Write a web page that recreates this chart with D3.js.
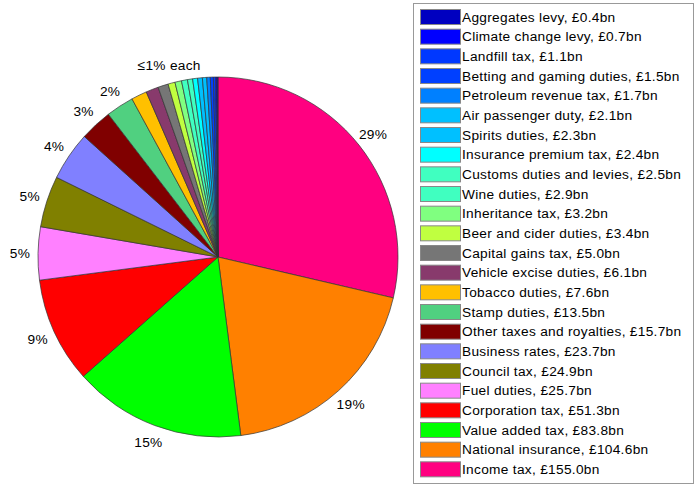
<!DOCTYPE html>
<html>
<head>
<meta charset="utf-8">
<script src="https://cdn.jsdelivr.net/npm/d3@7"></script>
<style>
  body { margin: 0; background: white; }
  text { font-family: "Liberation Sans", Arial, sans-serif; }
</style>
</head>
<body>
<main></main>
<script>
// descending order, as drawn clockwise from 12 o'clock
let taxes = ["Income tax", "National insurance", "Value added tax", "Corporation tax",
    "Fuel duties", "Council tax", "Business rates", "Other taxes and royalties",
    "Stamp duties", "Tobacco duties", "Vehicle excise duties", "Capital gains tax",
    "Beer and cider duties", "Inheritance tax", "Wine duties", "Customs duties and levies",
    "Insurance premium tax", "Spirits duties", "Air passenger duty", "Petroleum revenue tax",
    "Betting and gaming duties", "Landfill tax", "Climate change levy", "Aggregates levy"]

let revenue = [155.0, 104.6, 83.8, 51.3, 25.7, 24.9, 23.7, 15.7, 13.5, 7.6, 6.1, 5.0,
    3.4, 3.2, 2.9, 2.5, 2.4, 2.3, 2.1, 1.7, 1.5, 1.1, 0.7, 0.4]

let colours = ["#ff0080", "#ff8000", "#00ff00", "#ff0000", "#ff80ff", "#808000",
    "#8080ff", "#800000", "#50d080", "#ffc000", "#883a6c", "#767676",
    "#c0ff40", "#80ff80", "#40ffc0", "#40ffc0", "#00ffff", "#00c0ff",
    "#00c0ff", "#0080ff", "#0040ff", "#0038ff", "#0000ff", "#0000c0"]

// slice labels; the small slices share one label
let sliceLabels = ["29%", "19%", "15%", "9%", "5%", "5%", "4%", "3%", "2%"]
let smallLabel = "\u22641% each"

const svgWidth = 696
const svgHeight = 487
const cx = 218
const cy = 257
const radius = 180
const labelRadius = 198
const fontSize = "13.7px"

let data = taxes.map((t, i) => ({ tax: t, value: revenue[i], colour: colours[i] }))

let svg = d3.select("main")
    .append("svg")
    .attr("width", svgWidth)
    .attr("height", svgHeight)

/* pie */

let pie = d3.pie()
    .value((d) => d.value)
    .sort(null)

let arcs = pie(data)

let arc = d3.arc()
    .innerRadius(0)
    .outerRadius(radius)

let graph = svg.append("g")
    .attr("transform", `translate(${cx}, ${cy})`)

graph.selectAll("path")
    .data(arcs)
    .enter()
    .append("path")
    .attr("d", arc)
    .attr("fill", (d) => d.data.colour)
    .attr("stroke", "#333")
    .attr("stroke-width", 0.7)

let labelArc = d3.arc()
    .innerRadius(labelRadius)
    .outerRadius(labelRadius)

graph.selectAll("text.pct")
    .data(arcs.slice(0, sliceLabels.length))
    .enter()
    .append("text")
    .attr("class", "pct")
    .attr("transform", (d) => `translate(${labelArc.centroid(d)})`)
    .attr("text-anchor", "middle")
    .attr("dy", "0.35em")
    .style("font-size", fontSize)
    .style("letter-spacing", "0.3px")
    .text((d, i) => sliceLabels[i])

let small = arcs.slice(sliceLabels.length)
let smallArc = { startAngle: small[0].startAngle, endAngle: small[small.length - 1].endAngle }

graph.append("text")
    .attr("transform", `translate(${labelArc.centroid(smallArc)})`)
    .attr("text-anchor", "middle")
    .attr("dy", "0.35em")
    .style("font-size", fontSize)
    .style("letter-spacing", "0.3px")
    .text(smallLabel)

/* legend */

let legendData = data.slice().reverse()

let legend = svg.append("g")

legend.append("rect")
    .attr("x", 413.5)
    .attr("y", 3.5)
    .attr("width", 280)
    .attr("height", 480)
    .attr("fill", "white")
    .attr("stroke", "#999")

let yScale = d3.scaleBand()
    .domain(legendData.map((d) => d.tax))
    .range([6.5, 478.5])

let items = legend.selectAll("g.item")
    .data(legendData)
    .enter()
    .append("g")
    .attr("class", "item")
    .attr("transform", (d) => `translate(0, ${yScale(d.tax)})`)

items.append("rect")
    .attr("x", 420.5)
    .attr("y", 3)
    .attr("width", 40)
    .attr("height", 15)
    .attr("fill", (d) => d.colour)
    .attr("stroke", "#888")

items.append("text")
    .attr("x", 462)
    .attr("y", 10.5)
    .attr("dy", "0.35em")
    .style("font-size", fontSize)
    .style("letter-spacing", "0.3px")
    .text((d) => `${d.tax}, \u00a3${d.value.toFixed(1)}bn`)
</script>
</body>
</html>
